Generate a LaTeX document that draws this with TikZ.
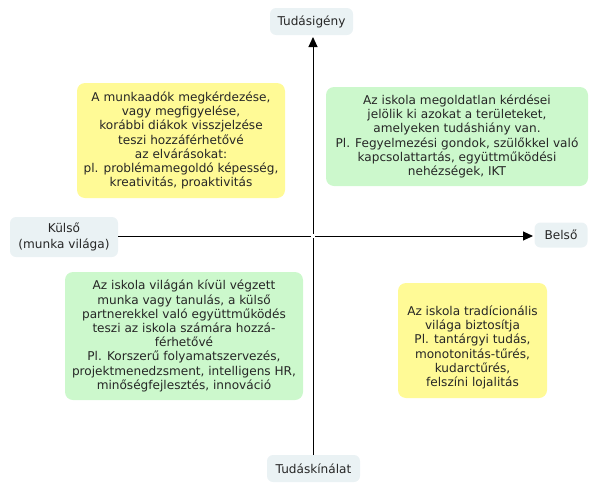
\documentclass[tikz,border=0pt]{standalone}
\usepackage{fontspec}
\setmainfont{DejaVu Sans}
\usetikzlibrary{arrows.meta}
\definecolor{txt}{HTML}{262626}
\definecolor{yel}{HTML}{FFFA96}
\definecolor{grn}{HTML}{CCF8CC}
\definecolor{lbl}{HTML}{EAF2F4}
\tikzset{
  box/.style={rounded corners=8pt, inner sep=0pt, align=center, text=txt,
    font=\fontsize{12.1}{14.2}\selectfont},
  ybox/.style={box, fill=yel},
  gbox/.style={box, fill=grn},
  axlabel/.style={rounded corners=6pt, fill=lbl, inner sep=0pt, align=center, text=txt,
    font=\fontsize{12.1}{15.5}\selectfont},
  axis/.style={line width=1pt, draw=black},
  tip/.style={-{Triangle[length=10pt,width=9pt]}}
}
\begin{document}
\begin{tikzpicture}[x=1pt,y=-1pt]
\useasboundingbox (0,0) rectangle (595,485);
% axis labels
\node[axlabel, minimum width=83pt, minimum height=27pt] (top) at (311.5,21.5) {Tudásigény};
\node[axlabel, minimum width=93pt, minimum height=27pt] (bot) at (313.5,468.5) {Tudáskínálat};
\node[axlabel, minimum width=108pt, minimum height=40pt] (left) at (64,237) {Külső\\(munka világa)};
\node[axlabel, minimum width=53pt, minimum height=25pt] (right) at (561,235) {Belső};
% axes
\coordinate (vt) at (313,37);
\coordinate (vb) at (313,455);
\coordinate (hl) at (118,236);
\coordinate (hr) at (533,236);
\draw[axis, tip] (vb) -- (vt);
\draw[axis, tip] (hl) -- (hr);
\fill[white] (311.2,234.2) rectangle (314.8,237.8);
% quadrant boxes
\node[ybox, minimum width=208pt, minimum height=115pt] (q1) at (181,140.5)
 {A munkaadók megkérdezése,\\vagy megfigyelése,\\korábbi diákok visszjelzése\\teszi hozzáférhetővé\\az elvárásokat:\\pl. problémamegoldó képesség,\\kreativitás, proaktivitás};
\node[gbox, minimum width=262pt, minimum height=99pt] (q2) at (457,136.5)
 {Az iskola megoldatlan kérdései\\jelölik ki azokat a területeket,\\amelyeken tudáshiány van.\\Pl. Fegyelmezési gondok, szülőkkel való\\kapcsolattartás, együttműködési\\nehézségek, IKT};
\node[gbox, minimum width=238pt, minimum height=128pt] (q3) at (184,336)
 {Az iskola világán kívül végzett\\munka vagy tanulás, a külső\\partnerekkel való együttműködés\\teszi az iskola számára hozzá-\\férhetővé\\Pl. Korszerű folyamatszervezés,\\projektmenedzsment, intelligens HR,\\minőségfejlesztés, innováció};
\node[ybox, minimum width=149pt, minimum height=115pt] (q4) at (472.5,340.5) {};
\node[box] (q4t) at ([yshift=-7pt]q4.center)
 {Az iskola tradícionális\\világa biztosítja\\Pl. tantárgyi tudás,\\monotonitás-tűrés,\\kudarctűrés,\\felszíni lojalitás};
\end{tikzpicture}
\end{document}
